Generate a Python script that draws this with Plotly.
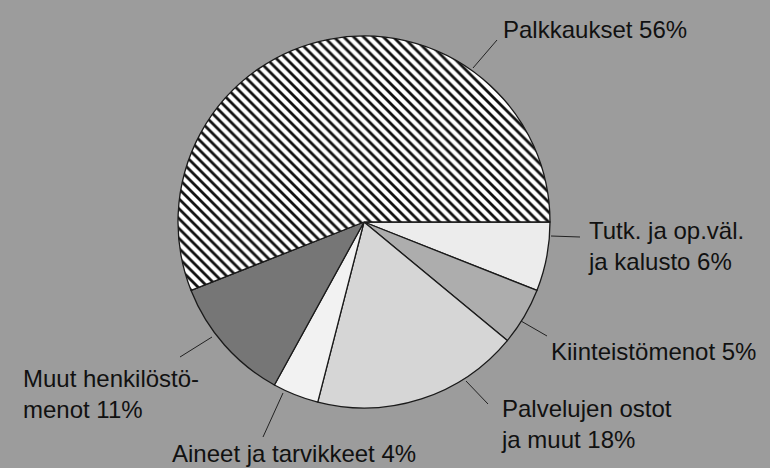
import plotly.graph_objects as go

# Menojen jakauma (%), myötäpäivään klo 3:sta alkaen
categories = ["Tutk. ja op.väl. ja kalusto", "Kiinteistömenot", "Palvelujen ostot ja muut",
              "Aineet ja tarvikkeet", "Muut henkilöstömenot", "Palkkaukset"]
values = [6, 5, 18, 4, 11, 56]
label_texts = ["Tutk. ja op.väl.<br>ja kalusto {}%", "Kiinteistömenot {}%",
               "Palvelujen ostot<br>ja muut {}%", "Aineet ja tarvikkeet {}%",
               "Muut henkilöstö-<br>menot {}%", "Palkkaukset {}%"]

W, H = 770, 468
CX, CY, R = 364, 222, 186   # piirakan keskipiste ja säde pikseleinä

FILLS = ["#ececec", "#adadad", "#d6d6d6", "#f2f2f2", "#767676", "#ffffff"]
PATTERNS = ["", "", "", "", "", "\\"]

# tekstien vasen reuna ja pystykeskikohta sekä viivojen päätepisteet (pikseleinä)
LABEL_POS = [(586, 246), (549, 351), (499, 424), (170, 453), (21, 394), (501, 29)]
LEADERS = [((551, 236), (580, 237)), ((521, 321), (547, 336)), ((466, 381), (488, 404)),
           ((283, 393), (263, 437)), ((212, 337), (180, 357)), ((473, 68), (497, 40))]


def px(x, y):
    return x / W, 1 - y / H


fig = go.Figure()
fig.add_trace(go.Pie(
    labels     = categories,
    values     = values,
    sort       = False,
    direction  = "clockwise",
    rotation   = 90,
    textinfo   = "none",
    hoverinfo  = "label+percent",
    marker     = dict(
        colors  = FILLS,
        line    = dict(color="#1a1a1a", width=1.3),
        pattern = dict(shape=PATTERNS, fgcolor="#111111", bgcolor=FILLS, size=7, solidity=0.4),
    ),
    domain     = dict(x=[(CX - R) / W, (CX + R) / W], y=[1 - (CY + R) / H, 1 - (CY - R) / H]),
    showlegend = False,
))

annotations = []
for tmpl, v, (lx, ly) in zip(label_texts, values, LABEL_POS):
    x, y = px(lx, ly)
    annotations.append(dict(
        x=x, y=y, xref="paper", yref="paper", xanchor="left", yanchor="middle",
        align="left", showarrow=False, text=tmpl.format(v),
        font=dict(family="Liberation Sans, Arial, sans-serif", size=24, color="#111111"),
    ))

shapes = []
for (x0, y0), (x1, y1) in LEADERS:
    a0, b0 = px(x0, y0)
    a1, b1 = px(x1, y1)
    shapes.append(dict(type="line", xref="paper", yref="paper", x0=a0, y0=b0, x1=a1, y1=b1,
                       line=dict(color="#222222", width=1)))

fig.update_layout(
    width         = W,
    height        = H,
    margin        = dict(l=0, r=0, t=0, b=0),
    paper_bgcolor = "#9c9c9c",
    plot_bgcolor  = "#9c9c9c",
    annotations   = annotations,
    shapes        = shapes,
)
fig.write_html("out.html", config={"displayModeBar": False},
               post_script="document.body.style.margin='0';"
                           "document.body.style.overflow='hidden';")
